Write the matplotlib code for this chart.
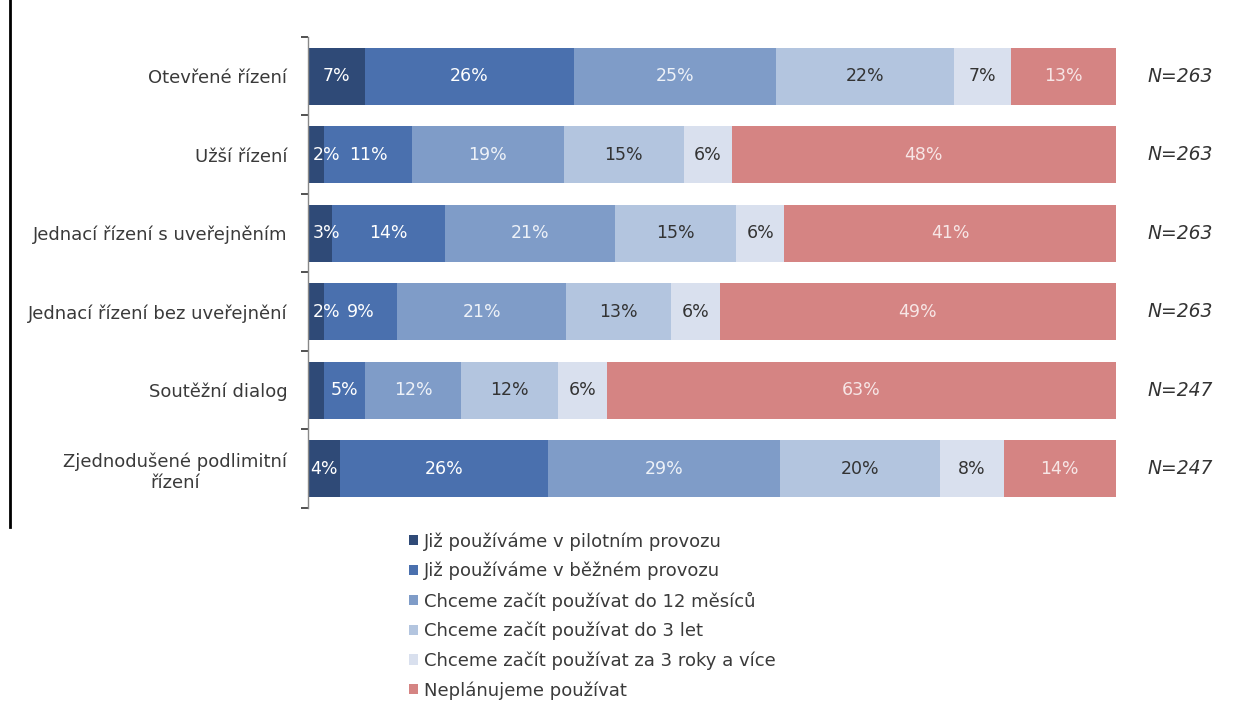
import matplotlib
matplotlib.use('Agg')
import matplotlib.pyplot as plt
from matplotlib.lines import Line2D
import numpy as np

plt.rcParams['font.family'] = ['DejaVu Sans']

categories = ['Otevřené řízení', 'Užší řízení', 'Jednací řízení s uveřejněním',
              'Jednací řízení bez uveřejnění', 'Soutěžní dialog',
              'Zjednodušené podlimitní\nřízení']
series = ['Již používáme v pilotním provozu', 'Již používáme v běžném provozu',
          'Chceme začít používat do 12 měsíců', 'Chceme začít používat do 3 let',
          'Chceme začít používat za 3 roky a více', 'Neplánujeme používat']
values = np.array([
    [7, 26, 25, 22, 7, 13],
    [2, 11, 19, 15, 6, 48],
    [3, 14, 21, 15, 6, 41],
    [2, 9, 21, 13, 6, 49],
    [2, 5, 12, 12, 6, 63],
    [4, 26, 29, 20, 8, 14],
])
show_label = np.ones_like(values, dtype=bool)
show_label[4, 0] = False
n_labels = ['N=263', 'N=263', 'N=263', 'N=263', 'N=247', 'N=247']

colors = ['#2f4a77', '#4a70ae', '#7f9cc8', '#b3c5df', '#d9e0ee', '#d58483']
text_colors = ['white', 'white', '#eef2f8', '#333333', '#333333', '#f7e6e6']

fig = plt.figure(figsize=(12.52, 7.17), dpi=100)
ax = fig.add_axes([0.246, 0.2915, 0.645, 0.657])

# rows are scaled to 100 % so every bar ends at the same place
shares = values / values.sum(axis=1, keepdims=True) * 100
y = np.arange(len(categories))
left = np.zeros(len(categories))
for j in range(len(series)):
    rects = ax.barh(y, shares[:, j], left=left, height=0.73,
                    color=colors[j], label=series[j], linewidth=0)
    for i, rect in enumerate(rects):
        if not show_label[i, j]:
            continue
        cx = rect.get_x() + rect.get_width() / 2
        if values[i, j] <= 3:
            cx = rect.get_x() + 2.3
        ax.text(cx, y[i], '{}%'.format(values[i, j]), ha='center', va='center',
                fontsize=12.5, color=text_colors[j])
    left += shares[:, j]

for i, n in enumerate(n_labels):
    ax.text(104.0, y[i], n, ha='left', va='center', fontsize=13.5,
            style='italic', color='#333333')

ax.set_xlim(0, 100)
ax.set_ylim(5.5, -0.5)
ax.set_xticks([])
ax.set_yticks(y)
ax.set_yticklabels(categories, fontsize=13, color='#3a3a3a', multialignment='center')
ax.set_yticks(np.arange(-0.5, 6, 1), minor=True)
ax.tick_params(axis='y', which='major', length=0, pad=15)
ax.tick_params(axis='y', which='minor', length=5, width=1.2, color='#333333')
for s in ['top', 'right', 'bottom']:
    ax.spines[s].set_visible(False)
ax.spines['left'].set_color('#888888')
ax.spines['left'].set_linewidth(1)

leg = fig.legend(loc='upper left', bbox_to_anchor=(0.321, 0.268), frameon=False,
                 fontsize=13, handlelength=0.5, handleheight=0.5,
                 handletextpad=0.3, labelspacing=0.62, borderaxespad=0)
for t in leg.get_texts():
    t.set_color('#3a3a3a')

fig.add_artist(Line2D([0.008, 0.008], [1.0, 0.265], color='black', linewidth=2))

fig.savefig('out.png', dpi=100, facecolor='white')
